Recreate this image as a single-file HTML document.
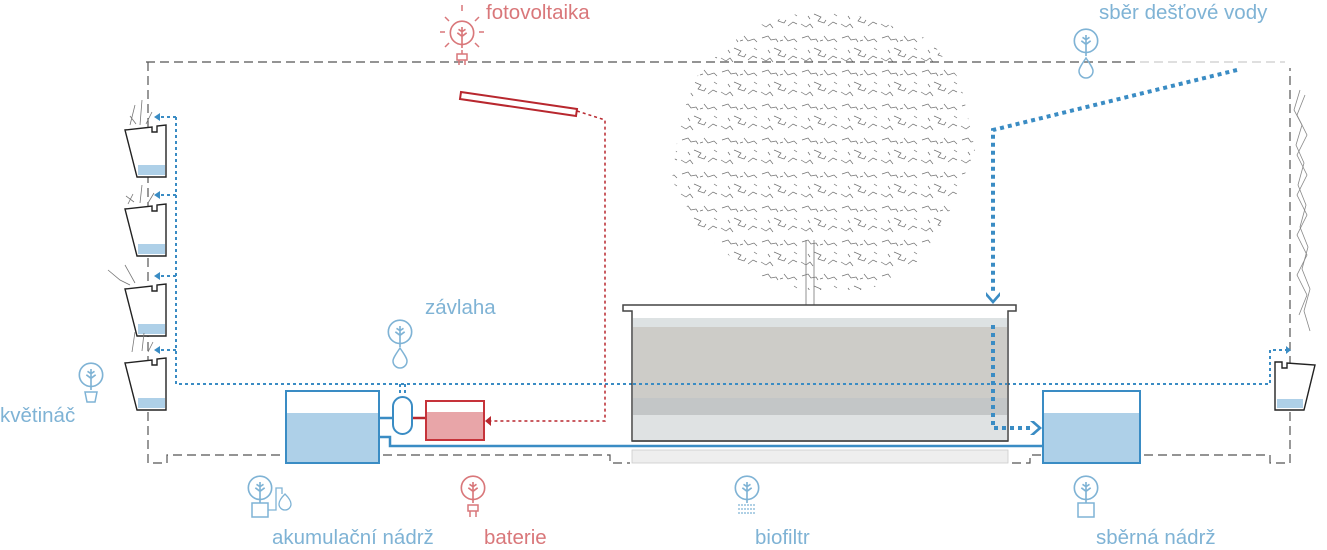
<!DOCTYPE html>
<html><head><meta charset="utf-8"><style>
html,body{margin:0;padding:0;background:#fff;}
svg{display:block;}
text{font-family:"Liberation Sans",sans-serif;font-size:20.5px;}
</style></head><body>
<svg width="1327" height="550" viewBox="0 0 1327 550" xmlns="http://www.w3.org/2000/svg">
<defs>
<pattern id="leaf" width="40" height="34" patternUnits="userSpaceOnUse">
<g fill="none" stroke="#555" stroke-width="0.7">
<path d="M2 4 l6 -2 l3 4 l5 -1 l2 3 M14 14 l7 3 l-3 4 l6 2 l2 -3 M1 24 l5 3 l4 -3 l3 4 M24 2 l4 5 l6 -2 l3 3 M28 26 l5 -4 l4 2 M8 16 l2 3 M20 7 l3 -1 M34 14 l3 2"/>
</g>
</pattern>
<clipPath id="canopy"><path d="M700 70 L750 28 L810 10 L870 18 L930 40 L960 80 L975 150 L950 210 L920 260 L870 290 L790 290 L740 265 L700 230 L672 180 L680 120 Z"/></clipPath>
<symbol id="tree" viewBox="0 0 24 24"><circle cx="12" cy="11" r="10" fill="none" stroke="currentColor" stroke-width="1.4"/><path d="M12 6 V24 M8 11 l4 3 l4 -3 M9 8 l3 2 l3 -2" fill="none" stroke="currentColor" stroke-width="1.4"/></symbol>
</defs>

<!-- outer dashed frame -->
<g fill="none" stroke="#555" stroke-width="1.2" stroke-dasharray="9,5">
<path d="M146 62 H1140"/>
<path d="M148 62 V463 H167 V455 H610 V463 H630"/>
<path d="M1012 463 H1030 V455 H1270 V463 H1290 V68"/>
</g>
<path d="M1140 62 H1285" stroke="#ccc" stroke-width="1.2" stroke-dasharray="9,5"/>

<!-- tree -->
<rect x="660" y="0" width="330" height="300" fill="url(#leaf)" clip-path="url(#canopy)" opacity="0.85"/>
<path d="M806 240 V318 M814 240 V318" stroke="#777" stroke-width="0.8"/>

<!-- pots left -->
<g stroke="#222" stroke-width="1.4" fill="#fff">
<g id="pot"><path d="M125 130 L152 127 L152 132 L157 132 L157 126 L166 125 L166 177 L137 177 Z"/><rect x="138" y="165" width="27" height="10" fill="#aed0e8" stroke="none"/></g>
<use href="#pot" y="79"/><use href="#pot" y="159"/><use href="#pot" y="233"/>
</g>
<g stroke="#777" stroke-width="0.8" fill="none">
<path d="M130 125 l5 -20 M140 125 l2 -25 M146 124 l6 -12 M136 124 l-6 -8 M128 204 l5 -10 M140 203 l2 -18 M148 203 l6 -10 M134 202 l-8 -6 M108 270 l12 10 l10 5 M125 265 l10 18 M132 352 l3 -20 M142 351 l2 -18 M148 352 l5 -10"/>
</g>
<!-- right pot -->
<path d="M1275 362 L1282 362 L1282 368 L1287 368 L1287 363 L1315 365 L1304 410 L1275 410 Z" stroke="#222" stroke-width="1.4" fill="#fff"/>
<rect x="1277" y="399" width="26" height="9" fill="#aed0e8"/>
<path d="M1300 90 l-6 20 l8 15 l-6 20 l8 18 l-6 22 l8 20 l-6 22 l8 20 l-6 22 l8 20 l-6 22 l6 20" stroke="#888" stroke-width="0.8" fill="none"/>
<path d="M1305 95 l-8 20 l10 20 l-10 20 l10 20 l-10 20 l10 20 l-10 20 l10 20 l-10 20 l10 20 l-8 20" stroke="#888" stroke-width="0.8" fill="none"/>

<!-- blue irrigation dotted -->
<g fill="none" stroke="#3a8cc4" stroke-width="2" stroke-dasharray="3,3">
<path d="M176 117 V384 H1270 V350 H1287"/>
<path d="M176 117 H158 M176 195 H158 M176 276 H158 M176 350 H158"/>
<path d="M400 384 V396 M405 384 V396"/>
</g>
<g fill="#3a8cc4"><path d="M154 117 l6 -4 v8z M154 195 l6 -4 v8z M154 276 l6 -4 v8z M154 350 l6 -4 v8z M1291 350 l-5 -4 v8z"/></g>

<!-- rain dotted thick -->
<g fill="none" stroke="#3a8cc4" stroke-width="4" stroke-dasharray="4,4">
<path d="M1237 70 L993 130 V292"/>
</g>
<path d="M986 292 l7 8 l7 -8 v4 l-7 8 l-7 -8z" fill="#3a8cc4"/>

<!-- biofiltr -->
<path d="M623 305 H1016 V311 H1008 V441 H632 V311 H623 Z" fill="#fff" stroke="#444" stroke-width="1.5"/>
<rect x="633" y="318" width="374" height="9" fill="#dde2e3"/>
<rect x="633" y="327" width="374" height="71" fill="#cdccc8"/>
<rect x="633" y="398" width="374" height="17" fill="#c3c6c7"/>
<rect x="633" y="415" width="374" height="25" fill="#dfe2e3"/>
<path d="M632 441 H1008" stroke="#444" stroke-width="1.5"/>
<rect x="632" y="450" width="376" height="13" fill="#eee" stroke="#ccc" stroke-width="0.8"/>
<path d="M633 384 H1007" stroke="#3a8cc4" stroke-width="2" stroke-dasharray="3,3"/>
<path d="M993 325 V428 H1030" stroke="#3a8cc4" stroke-width="4" stroke-dasharray="4,4" fill="none"/>
<path d="M1030 421 l8 7 l-8 7 h4 l8 -7 l-8 -7z" fill="#3a8cc4"/>

<!-- red solar line -->
<path d="M577 111 L605 120 V421 H490" fill="none" stroke="#b8272e" stroke-width="1.5" stroke-dasharray="3,3"/>
<path d="M485 421 l6 -5 v10z" fill="#b8272e"/>
<path d="M461 92 L577 109 L576 116 L460 99 Z" fill="#fff" stroke="#b8272e" stroke-width="2"/>

<!-- blue pipe -->
<path d="M379 437 H390 V446 H1043" fill="none" stroke="#3a8cc4" stroke-width="2.5"/>
<path d="M379 418 H393" stroke="#3a8cc4" stroke-width="2.5"/>
<path d="M412 418 H427" stroke="#b8272e" stroke-width="2.5"/>

<!-- tanks -->
<rect x="286" y="391" width="93" height="72" fill="#fff" stroke="#3a8cc4" stroke-width="2"/>
<rect x="287" y="413" width="91" height="49" fill="#aed0e8"/>
<rect x="1043" y="391" width="97" height="72" fill="#fff" stroke="#3a8cc4" stroke-width="2"/>
<rect x="1044" y="413" width="95" height="49" fill="#aed0e8"/>
<rect x="393" y="397" width="19" height="37" rx="9.5" fill="#fff" stroke="#3a8cc4" stroke-width="2"/>
<rect x="426" y="401" width="58" height="39" fill="#fff" stroke="#c6333a" stroke-width="2"/>
<rect x="427" y="412" width="56" height="27" fill="#e8a5a8"/>

<!-- icons -->
<g color="#d9777a"><use href="#tree" x="448" y="18" width="28" height="32"/>
<path d="M462 50 v4 M457 54 h10 v6 h-10z M459 60 v5 M465 60 v5 M440 32 h5 M479 32 h5 M445 17 l4 4 M479 17 l-4 4 M445 47 l4 -4 M479 47 l-4 -4 M462 5 v6" stroke="#d9777a" stroke-width="1.5" fill="none"/></g>
<g color="#d9777a"><use href="#tree" x="459" y="473" width="28" height="32"/>
<path d="M468 505 h10 v6 h-10z M470 511 v6 M476 511 v6" stroke="#d9777a" stroke-width="1.5" fill="none"/></g>
<g color="#7fb3d5">
<use href="#tree" x="1072" y="26" width="28" height="32"/>
<path d="M1086 58 c-4 6 -7 10 -7 13 a7 7 0 0 0 14 0 c0 -3 -3 -7 -7 -13z" fill="none" stroke="#7fb3d5" stroke-width="1.5"/>
<use href="#tree" x="386" y="317" width="28" height="32"/>
<path d="M400 348 c-4 6 -7 10 -7 13 a7 7 0 0 0 14 0 c0 -3 -3 -7 -7 -13z" fill="none" stroke="#7fb3d5" stroke-width="1.5"/>
<use href="#tree" x="77" y="360" width="28" height="32"/>
<path d="M85 392 h12 l-2 10 h-8z" fill="none" stroke="#7fb3d5" stroke-width="1.5"/>
<use href="#tree" x="733" y="473" width="28" height="32"/>
<path d="M738 505 h18 M738 509 h18 M738 513 h18" stroke="#7fb3d5" stroke-width="1.2" stroke-dasharray="2,1"/>
<use href="#tree" x="1072" y="473" width="28" height="32"/>
<rect x="1078" y="503" width="16" height="14" fill="none" stroke="#7fb3d5" stroke-width="1.5"/>
<use href="#tree" x="246" y="473" width="28" height="32"/>
<rect x="252" y="503" width="16" height="14" fill="none" stroke="#7fb3d5" stroke-width="1.5"/>
<path d="M268 510 h8 V488 h6 v6 M285 494 c-3 3 -6 7 -6 10 a6 6 0 0 0 12 0 c0 -3 -3 -7 -6 -10z" fill="none" stroke="#7fb3d5" stroke-width="1.3"/>
</g>

<!-- labels -->
<g fill="#d9777a"><text x="486" y="19">fotovoltaika</text><text x="484" y="544">baterie</text></g>
<g fill="#7fb3d5">
<text x="1099" y="19">sběr dešťové vody</text>
<text x="425" y="314">závlaha</text>
<text x="0" y="422">květináč</text>
<text x="272" y="544">akumulační nádrž</text>
<text x="755" y="544">biofiltr</text>
<text x="1096" y="544">sběrná nádrž</text>
</g>
</svg>
</body></html>
